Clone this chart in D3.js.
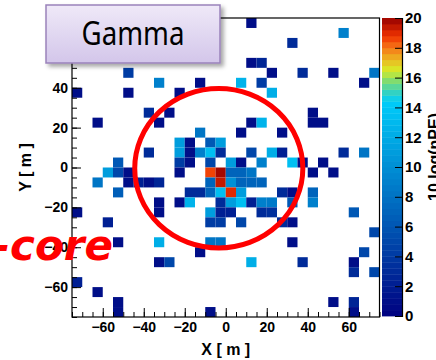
<!DOCTYPE html>
<html><head><meta charset="utf-8">
<script src="https://cdn.jsdelivr.net/npm/d3@7/dist/d3.min.js"></script>
<style>
html,body{margin:0;padding:0;background:#fff;}
svg{display:block;}
</style>
</head><body>
<svg id="chart" width="436" height="360"></svg>
<script>
// Ground-array hit map: bin centres (m) and signal per bin, 10 log(nPE)
const binX = [
  12.5,
  57.5,
  32.5,
  12.5, 17.5,
  -47.5, 22.5, 37.5, 52.5, 72.5,
  -32.5, -12.5, 7.5, 17.5, 67.5,
  -72.5, -47.5, -22.5, 22.5,
  -37.5, -27.5, 42.5,
  -62.5, -32.5, 12.5, 17.5, 42.5, 47.5,
  -12.5, 7.5, 27.5,
  -22.5, -17.5, -7.5, -2.5,
  -37.5, -22.5, -17.5, -12.5, -7.5, -2.5, 12.5, 22.5, 27.5, 57.5, 67.5,
  -52.5, -22.5, -17.5, -7.5, 2.5, 7.5, 17.5, 32.5, 37.5, 47.5,
  -57.5, -52.5, -47.5, -22.5, -7.5, -2.5, 2.5, 7.5, 12.5, 42.5, 52.5,
  -62.5, -47.5, -42.5, -37.5, -32.5, -7.5, -2.5, 2.5, 7.5, 12.5, 17.5,
  -52.5, -17.5, -12.5, -7.5, -2.5, 2.5, 7.5, 27.5, 32.5, 42.5,
  -32.5, -22.5, -17.5, -2.5, 2.5, 7.5, 12.5, 17.5, 22.5, 32.5, 42.5,
  -72.5, -32.5, -7.5, -2.5, 2.5, 17.5, 22.5, 62.5,
  -57.5, -7.5, -2.5, 7.5, 27.5, 32.5,
  72.5,
  -52.5, -32.5, -7.5, -2.5, 32.5,
  -12.5, 67.5,
  -32.5, -27.5, 12.5, 37.5, 62.5,
  62.5, 72.5,
  -72.5,
  -62.5,
  -52.5, 52.5, 62.5,
  -52.5, -7.5, 62.5
];
const binY = [
  72.5,
  67.5,
  62.5,
  52.5, 52.5,
  47.5, 47.5, 47.5, 47.5, 47.5,
  42.5, 42.5, 42.5, 42.5, 42.5,
  37.5, 37.5, 37.5, 37.5,
  27.5, 27.5, 27.5,
  22.5, 22.5, 22.5, 22.5, 22.5, 22.5,
  17.5, 17.5, 17.5,
  12.5, 12.5, 12.5, 12.5,
  7.5, 7.5, 7.5, 7.5, 7.5, 7.5, 7.5, 7.5, 7.5, 7.5, 7.5,
  2.5, 2.5, 2.5, 2.5, 2.5, 2.5, 2.5, 2.5, 2.5, 2.5,
  -2.5, -2.5, -2.5, -2.5, -2.5, -2.5, -2.5, -2.5, -2.5, -2.5, -2.5,
  -7.5, -7.5, -7.5, -7.5, -7.5, -7.5, -7.5, -7.5, -7.5, -7.5, -7.5,
  -12.5, -12.5, -12.5, -12.5, -12.5, -12.5, -12.5, -12.5, -12.5, -12.5,
  -17.5, -17.5, -17.5, -17.5, -17.5, -17.5, -17.5, -17.5, -17.5, -17.5, -17.5,
  -22.5, -22.5, -22.5, -22.5, -22.5, -22.5, -22.5, -22.5,
  -27.5, -27.5, -27.5, -27.5, -27.5, -27.5,
  -32.5,
  -37.5, -37.5, -37.5, -37.5, -37.5,
  -42.5, -42.5,
  -47.5, -47.5, -47.5, -47.5, -47.5,
  -52.5, -52.5,
  -57.5,
  -62.5,
  -67.5, -67.5, -67.5,
  -72.5, -72.5, -72.5
];
const binZ = [
  1,
  9,
  3,
  1, 2.5,
  4, 1, 3, 1, 8,
  9, 1, 12.5, 4, 1,
  1, 1, 1, 12,
  3, 1, 1,
  1, 1, 1, 12.5, 1, 1,
  8, 1, 1,
  11, 1, 6, 11,
  3, 11, 1, 9, 13.5, 3, 5, 12, 2, 3, 8,
  6, 4, 1, 5, 11, 1, 9, 13.5, 1, 1,
  11, 5, 1, 1, 18.6, 19.8, 7, 7, 8, 1, 1,
  8, 1, 2, 1, 2.5, 7, 19.3, 10, 7, 7, 7,
  6.5, 3, 3, 7, 13.5, 18.9, 11, 3, 1, 7,
  1, 1, 12.5, 3, 11, 13.5, 2, 9, 8.5, 6, 9,
  1, 1, 11, 2, 2, 3, 3.5, 6,
  2, 4, 4, 5, 3, 1,
  5,
  1, 12, 8, 8, 1,
  1, 5,
  1, 5, 12, 3, 1,
  3, 5,
  2,
  1,
  1, 1, 2.5,
  1, 1, 1
];
const binSize = 5;
const xTicks = [-60, -40, -20, 0, 20, 40, 60];
const yTicks = [-60, -40, -20, 0, 20, 40, 60];
const zTicks = [0, 2, 4, 6, 8, 10, 12, 14, 16, 18, 20];
const zLevels = 50;

// colour palette: deep blue through cyan, green, yellow to dark red
const palStops = [0, 14.4, 15, 15.8, 16.5, 17.2, 18, 18.8, 20];
const palColors = ["#000080", "#00cdfa", "#32d2c3", "#82dc6e", "#d7eb28",
                   "#ebb923", "#f57819", "#f03200", "#960000"];

const svg = d3.select("#chart");
const W = 436, H = 360;
const plot = {left: 72, right: 379.5, top: 18, bottom: 317};
const cbar = {left: 382, right: 402, top: 18, bottom: 316};

const x = d3.scaleLinear().domain([-75, 75]).range([plot.left, plot.right]);
const y = d3.scaleLinear().domain([-75, 75]).range([plot.bottom, plot.top]);
const z = d3.scaleLinear().domain([0, 20]).range([cbar.bottom, cbar.top]);
const pal = d3.scaleLinear().domain(palStops).range(palColors)
  .interpolate(d3.interpolateRgb).clamp(true);
const step = 20 / zLevels;
const levelColor = v => {
  const k = Math.min(zLevels - 1, Math.max(0, Math.floor(v / step)));
  return pal((k + 0.5) * step);
};

const defs = svg.append("defs");
const grad = defs.append("linearGradient").attr("id", "boxFill")
  .attr("x1", 0).attr("y1", 0).attr("x2", 0).attr("y2", 1);
grad.append("stop").attr("offset", "0%").attr("stop-color", "#efe9f8");
grad.append("stop").attr("offset", "100%").attr("stop-color", "#d3c6ea");
const shadow = defs.append("filter").attr("id", "shadow")
  .attr("x", "-10%").attr("y", "-10%").attr("width", "130%").attr("height", "140%");
shadow.append("feDropShadow").attr("dx", 3).attr("dy", 3)
  .attr("stdDeviation", 2).attr("flood-color", "#000").attr("flood-opacity", 0.35);

// histogram cells
const cells = d3.range(binX.length).map(i => ({x: binX[i], y: binY[i], z: binZ[i]}));
svg.append("g").selectAll("rect").data(cells).join("rect")
  .attr("x", d => x(d.x - binSize / 2))
  .attr("y", d => y(d.y + binSize / 2))
  .attr("width", d => x(d.x + binSize / 2) - x(d.x - binSize / 2))
  .attr("height", d => y(d.y - binSize / 2) - y(d.y + binSize / 2))
  .attr("fill", d => levelColor(d.z));

// frame
svg.append("rect")
  .attr("x", plot.left).attr("y", plot.top)
  .attr("width", plot.right - plot.left).attr("height", plot.bottom - plot.top)
  .attr("fill", "none").attr("stroke", "#000").attr("stroke-width", 1.2);

const labelFont = g => g.selectAll("text")
  .attr("font-family", "'Liberation Sans', Arial, sans-serif")
  .attr("font-weight", "bold").attr("font-size", 14).attr("fill", "#000");

const minorVals = d3.range(-75, 75.01, 5);
// x axis
svg.append("g").attr("transform", `translate(0,${plot.bottom})`)
  .call(d3.axisBottom(x).tickValues(minorVals).tickFormat("").tickSize(-5))
  .call(g => g.select(".domain").remove());
svg.append("g").attr("transform", `translate(0,${plot.bottom})`)
  .call(d3.axisBottom(x).tickValues(xTicks).tickSize(-9).tickPadding(5).tickFormat(d3.format("d")))
  .call(g => g.select(".domain").remove())
  .call(labelFont);
// y axis
svg.append("g").attr("transform", `translate(${plot.left},0)`)
  .call(d3.axisLeft(y).tickValues(minorVals).tickFormat("").tickSize(-5))
  .call(g => g.select(".domain").remove());
svg.append("g").attr("transform", `translate(${plot.left},0)`)
  .call(d3.axisLeft(y).tickValues(yTicks).tickSize(-9).tickPadding(4).tickFormat(d3.format("d")))
  .call(g => g.select(".domain").remove())
  .call(labelFont);

// axis titles
svg.append("text").attr("x", (plot.left + plot.right) / 2).attr("y", 355)
  .attr("text-anchor", "middle")
  .attr("font-family", "'Liberation Sans', Arial, sans-serif")
  .attr("font-weight", "bold").attr("font-size", 16).text("X [ m ]");
svg.append("text")
  .attr("transform", `translate(31,${(plot.top + plot.bottom) / 2}) rotate(-90)`)
  .attr("text-anchor", "middle")
  .attr("font-family", "'Liberation Sans', Arial, sans-serif")
  .attr("font-weight", "bold").attr("font-size", 16).text("Y [ m ]");

// colour scale bar
svg.append("g").selectAll("rect").data(d3.range(zLevels)).join("rect")
  .attr("x", cbar.left).attr("width", cbar.right - cbar.left)
  .attr("y", k => z((k + 1) * step))
  .attr("height", k => z(k * step) - z((k + 1) * step) + 0.4)
  .attr("fill", k => pal((k + 0.5) * step));
svg.append("g").attr("transform", `translate(${cbar.right},0)`)
  .call(d3.axisRight(z).tickValues(zTicks).tickSize(-7).tickPadding(3).tickFormat(d3.format("d")))
  .call(g => g.select(".domain").attr("stroke-width", 1.2))
  .call(g => g.selectAll("text").attr("font-size", 15))
  .call(labelFont)
  .call(g => g.selectAll("text").attr("font-size", 15));
svg.append("text")
  .attr("transform", `translate(440,157) rotate(-90)`)
  .attr("text-anchor", "middle")
  .attr("font-family", "'Liberation Sans', Arial, sans-serif")
  .attr("font-weight", "bold").attr("font-size", 16).text("10 log(nPE)");

// core region marker
svg.append("ellipse")
  .attr("cx", x(-3.4)).attr("cy", y(-0.4))
  .attr("rx", x(41) - x(0)).attr("ry", y(0) - y(40))
  .attr("fill", "none").attr("stroke", "#ff0000").attr("stroke-width", 5);

svg.append("text").attr("x", 113).attr("y", 260)
  .attr("text-anchor", "end")
  .attr("font-family", "'DejaVu Sans', sans-serif")
  .attr("font-weight", "bold").attr("font-style", "italic")
  .attr("font-size", 42).attr("fill", "#ff0000").text("-core");

// title box
svg.append("rect").attr("x", 46).attr("y", 5).attr("width", 174).attr("height", 58)
  .attr("fill", "url(#boxFill)").attr("stroke", "#9a82bb").attr("stroke-width", 1.5)
  .attr("filter", "url(#shadow)");
svg.append("text").attr("x", 133).attr("y", 45)
  .attr("text-anchor", "middle")
  .attr("font-family", "'Noto Sans', sans-serif")
  .attr("font-size", 33).attr("fill", "#000")
  .attr("textLength", 103).attr("lengthAdjust", "spacingAndGlyphs")
  .text("Gamma");
</script>
</body></html>
